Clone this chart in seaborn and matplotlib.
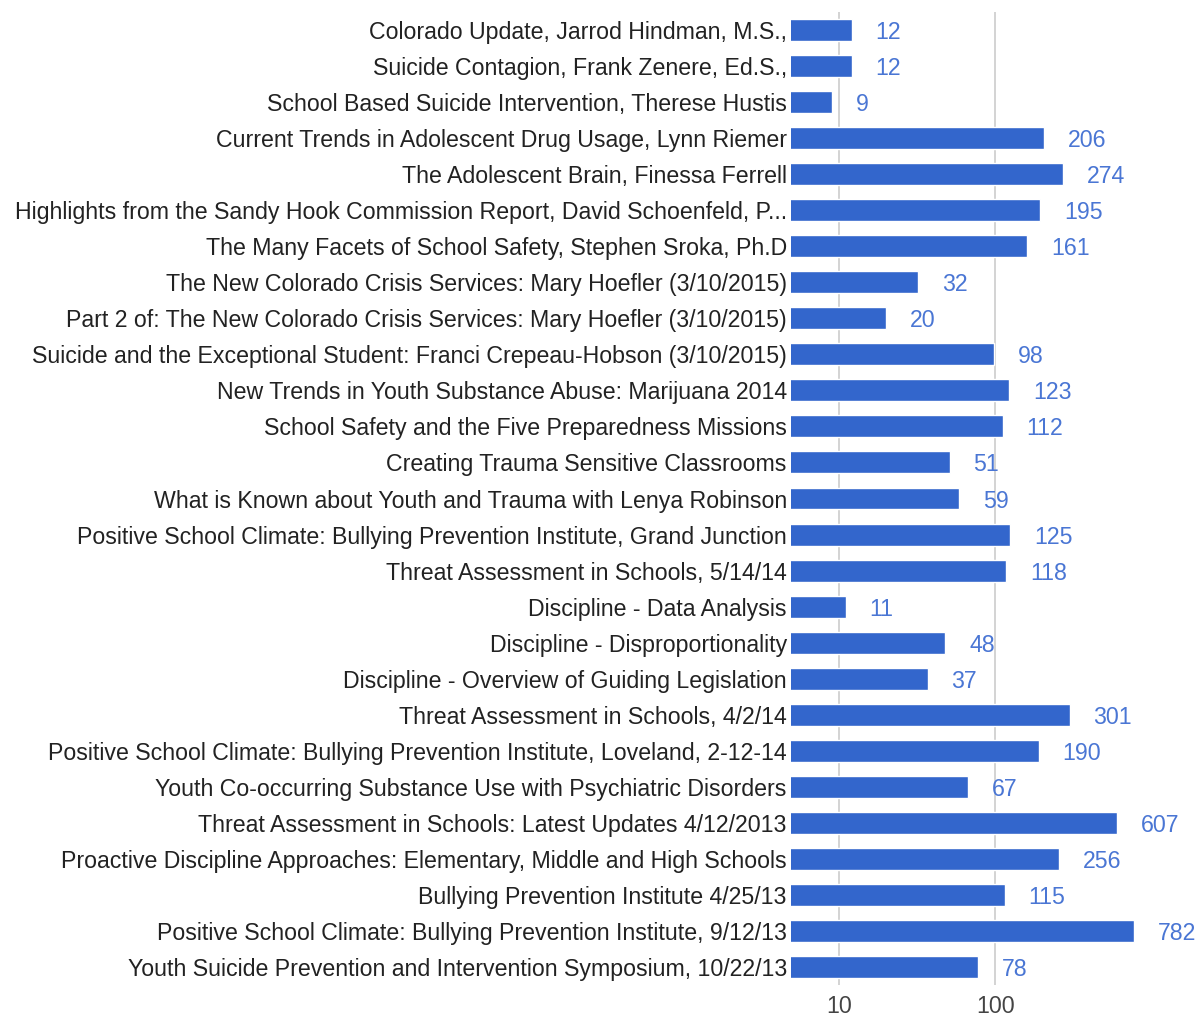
import pandas as pd
import matplotlib
matplotlib.use('Agg')
import matplotlib.pyplot as plt
import seaborn as sns

# --- Data ---
titles = [
    'Colorado Update, Jarrod Hindman, M.S.,',
    'Suicide Contagion, Frank Zenere, Ed.S.,',
    'School Based Suicide Intervention, Therese Hustis',
    'Current Trends in Adolescent Drug Usage, Lynn Riemer',
    'The Adolescent Brain, Finessa Ferrell',
    'Highlights from the Sandy Hook Commission Report, David Schoenfeld, P...',
    'The Many Facets of School Safety, Stephen Sroka, Ph.D',
    'The New Colorado Crisis Services: Mary Hoefler (3/10/2015)',
    'Part 2 of: The New Colorado Crisis Services: Mary Hoefler (3/10/2015)',
    'Suicide and the Exceptional Student: Franci Crepeau-Hobson (3/10/2015)',
    'New Trends in Youth Substance Abuse: Marijuana 2014',
    'School Safety and the Five Preparedness Missions',
    'Creating Trauma Sensitive Classrooms',
    'What is Known about Youth and Trauma with Lenya Robinson',
    'Positive School Climate: Bullying Prevention Institute, Grand Junction',
    'Threat Assessment in Schools, 5/14/14',
    'Discipline - Data Analysis',
    'Discipline - Disproportionality',
    'Discipline - Overview of Guiding Legislation',
    'Threat Assessment in Schools, 4/2/14',
    'Positive School Climate: Bullying Prevention Institute, Loveland, 2-12-14',
    'Youth Co-occurring Substance Use with Psychiatric Disorders',
    'Threat Assessment in Schools: Latest Updates 4/12/2013',
    'Proactive Discipline Approaches: Elementary, Middle and High Schools',
    'Bullying Prevention Institute 4/25/13',
    'Positive School Climate: Bullying Prevention Institute, 9/12/13',
    'Youth Suicide Prevention and Intervention Symposium, 10/22/13',
]
views = [12, 12, 9, 206, 274, 195, 161, 32, 20, 98, 123, 112, 51, 59, 125,
         118, 11, 48, 37, 301, 190, 67, 607, 256, 115, 782, 78]
tick_values = [10, 100]

df = pd.DataFrame({'Title': titles, 'Views': views})

BAR_COLOR = '#3366CC'
LABEL_COLOR = '#4a76d4'
FS = 16.7

sns.set_style('white')
plt.rcParams['font.family'] = ['Liberation Sans', 'DejaVu Sans']

fig = plt.figure(figsize=(12.03, 10.17), dpi=100)
ax = fig.add_axes([791 / 1203, 32 / 1017, 360 / 1203, 973 / 1017])

sns.barplot(data=df, x='Views', y='Title', color=BAR_COLOR, saturation=1,
            width=0.61, orient='h', ax=ax, zorder=2)

ax.set_xscale('log')
ax.set_xlim(4.9, 1000)
ax.set_ylim(len(titles) - 0.5, -0.5)

# vertical gridlines at 10 and 100
for v in tick_values:
    ax.axvline(v, color='#cccccc', linewidth=1.2, zorder=1)

ax.set_xticks(tick_values)
ax.set_xticklabels([str(v) for v in tick_values])
ax.xaxis.set_minor_locator(matplotlib.ticker.NullLocator())
ax.tick_params(axis='x', length=0, labelsize=FS, labelcolor='#444444', pad=7)
ax.tick_params(axis='y', length=0, labelsize=FS, labelcolor='#222222', pad=3)
ax.set_xlabel('')
ax.set_ylabel('')
for s in ax.spines.values():
    s.set_visible(False)

# value labels next to bars
for i, v in enumerate(views):
    ax.annotate(str(v), (v, i), xytext=(17, 0), textcoords='offset points',
                ha='left', va='center_baseline', fontsize=FS, color=LABEL_COLOR)

plt.savefig('out.png', dpi=100)
